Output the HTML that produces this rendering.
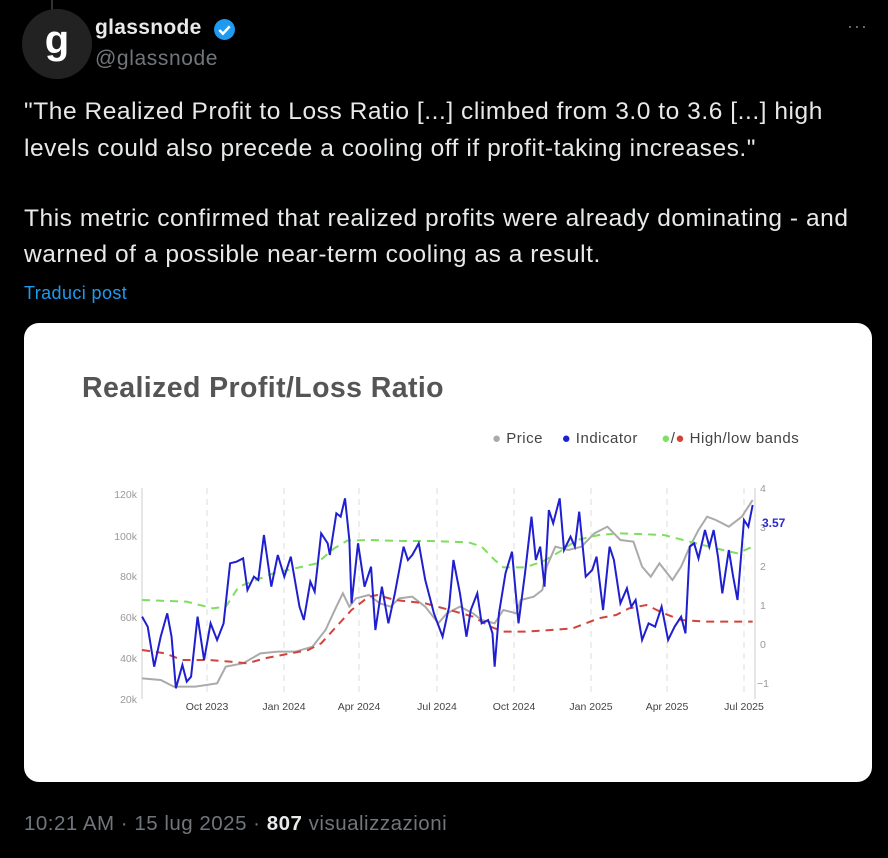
<!DOCTYPE html>
<html><head><meta charset="utf-8"><style>
body{margin:0;width:888px;height:858px;background:#000;overflow:hidden;font-family:"Liberation Sans",sans-serif;position:relative}
.a{position:absolute;white-space:nowrap}
.t{color:#e7e9ea;font-size:24.5px;letter-spacing:0.55px;left:24px}
</style></head><body>
<div class="a" style="left:51px;top:0;width:2px;height:10px;background:#333"></div>
<div class="a" style="left:22px;top:9px;width:70px;height:70px;border-radius:50%;background:#222;color:#fff;font-size:40px;font-weight:bold;text-align:center;line-height:62px">g</div>
<div class="a" style="left:95px;top:16px;color:#e7e9ea;font-size:21px;font-weight:bold;letter-spacing:0.3px">glassnode</div>
<svg class="a" style="left:213px;top:18px" width="23" height="23" viewBox="0 0 22 22"><circle cx="11" cy="11" r="10" fill="#1d9bf0"/><path d="M6 11.5l3.5 3.5 6.5-7" stroke="#fff" stroke-width="2.4" fill="none"/></svg>
<div class="a" style="left:95px;top:47px;color:#71767b;font-size:21px;letter-spacing:0.6px">@glassnode</div>
<div class="a" style="left:847px;top:16px;color:#71767b;font-size:18px;letter-spacing:1px">···</div>
<div class="a t" style="top:98px">"The Realized Profit to Loss Ratio [...] climbed from 3.0 to 3.6 [...] high</div>
<div class="a t" style="top:135px">levels could also precede a cooling off if profit-taking increases."</div>
<div class="a t" style="top:205px">This metric confirmed that realized profits were already dominating - and</div>
<div class="a t" style="top:241px">warned of a possible near-term cooling as a result.</div>
<div class="a" style="left:24px;top:283px;color:#1d9bf0;font-size:18px;letter-spacing:0.4px">Traduci post</div>
<div class="a" style="left:24px;top:323px;width:848px;height:459px;background:#fff;border-radius:15px"></div>
<div class="a" style="left:82px;top:372px;color:#555;font-size:28.5px;font-weight:bold;letter-spacing:0.4px">Realized Profit/Loss Ratio</div>
<div class="a" style="left:492px;top:430px;font-size:15px;letter-spacing:0.5px;color:#444"><span style="color:#aaa">●</span> Price &nbsp;&nbsp;&nbsp;<span style="color:#1f1fd6">●</span> Indicator &nbsp;&nbsp;&nbsp;&nbsp;<span style="color:#7de060">●</span>/<span style="color:#d0443a">●</span> High/low bands</div>
<svg class="a" style="left:0;top:0" width="888" height="858">
<g stroke="#ddd" stroke-dasharray="6,5" stroke-width="1">
<line x1="207" y1="488" x2="207" y2="697"/><line x1="284" y1="488" x2="284" y2="697"/><line x1="359" y1="488" x2="359" y2="697"/><line x1="437" y1="488" x2="437" y2="697"/><line x1="514" y1="488" x2="514" y2="697"/><line x1="591" y1="488" x2="591" y2="697"/><line x1="667" y1="488" x2="667" y2="697"/><line x1="744" y1="488" x2="744" y2="697"/></g>
<line x1="142" y1="488" x2="142" y2="699" stroke="#ccc"/><line x1="755" y1="488" x2="755" y2="699" stroke="#ccc"/>
<g font-size="10.5" fill="#999" text-anchor="end"><text x="137" y="498">120k</text><text x="137" y="540">100k</text><text x="137" y="580">80k</text><text x="137" y="621">60k</text><text x="137" y="662">40k</text><text x="137" y="703">20k</text></g>
<g font-size="10.5" fill="#999"><text x="760" y="492">4</text><text x="760" y="531">3</text><text x="760" y="570">2</text><text x="760" y="609">1</text><text x="760" y="648">0</text><text x="757" y="687">−1</text></g>
<g font-size="10.5" fill="#444" text-anchor="middle"><text x="207" y="710">Oct 2023</text><text x="284" y="710">Jan 2024</text><text x="359" y="710">Apr 2024</text><text x="437" y="710">Jul 2024</text><text x="514" y="710">Oct 2024</text><text x="591" y="710">Jan 2025</text><text x="667" y="710">Apr 2025</text><text x="744" y="710">Jul 2025</text></g>
<text x="762" y="527" font-size="12" font-weight="bold" fill="#2a2ad0">3.57</text>
</svg>
<svg class="a" style="left:100px;top:480px" width="680" height="240" viewBox="0 0 1568 720" preserveAspectRatio="none">
<polyline fill="none" stroke="#aaa" stroke-width="2" vector-effect="non-scaling-stroke" points="97,595 140,600 170,620 220,620 270,610 290,560 330,550 370,520 410,515 450,515 490,500 520,450 545,380 560,340 575,380 590,355 620,345 645,370 670,380 690,355 720,350 750,380 780,430 800,400 830,380 860,400 880,420 910,430 930,390 960,400 970,360 1000,350 1020,330 1030,260 1050,200 1080,210 1110,200 1140,160 1170,140 1200,180 1230,185 1250,260 1270,290 1290,250 1320,300 1340,260 1360,200 1380,150 1400,110 1420,120 1450,140 1480,110 1505,60"/>
<polyline fill="none" stroke="#7ede5e" stroke-width="2" stroke-dasharray="8,6" vector-effect="non-scaling-stroke" points="97,360 200,365 260,385 290,380 320,320 360,300 400,280 450,265 500,250 540,205 570,182 620,180 700,183 760,183 850,187 880,200 910,240 930,262 980,262 1020,245 1060,215 1100,180 1150,165 1200,160 1300,165 1360,185 1420,205 1470,220 1505,200"/>
<polyline fill="none" stroke="#d0443a" stroke-width="2" stroke-dasharray="8,6" vector-effect="non-scaling-stroke" points="97,510 150,520 190,540 250,540 300,545 340,550 380,535 440,520 480,510 510,490 545,440 580,390 620,350 640,345 680,360 750,370 820,395 860,410 900,440 930,455 980,455 1040,450 1090,445 1120,430 1150,415 1190,405 1220,385 1260,375 1300,400 1340,420 1400,425 1505,425"/>
<polyline fill="none" stroke="#1f1fd0" stroke-width="2" vector-effect="non-scaling-stroke" points="97,410 110,440 125,560 140,470 155,400 165,470 175,625 190,555 200,605 210,590 225,410 240,540 255,430 270,480 285,430 300,250 315,245 330,235 340,330 355,290 365,300 378,165 395,320 410,225 425,290 440,230 460,380 470,420 485,305 495,335 510,160 525,190 530,225 545,100 555,110 565,55 575,180 580,370 595,190 610,320 625,260 635,450 650,320 665,430 680,340 700,200 710,240 720,225 735,190 750,300 770,400 790,470 805,380 815,240 830,340 845,470 855,390 870,340 880,430 895,420 905,460 910,560 920,400 935,280 950,215 965,430 980,280 995,110 1005,240 1015,200 1025,320 1035,90 1045,130 1060,55 1070,210 1085,170 1095,200 1105,95 1120,290 1135,270 1145,230 1160,390 1175,200 1185,240 1200,370 1215,325 1225,380 1235,360 1250,480 1265,430 1280,440 1295,380 1310,480 1325,440 1340,410 1350,460 1360,200 1370,190 1380,235 1395,150 1405,200 1415,150 1425,230 1435,340 1450,210 1460,290 1470,360 1485,120 1495,140 1505,75"/>
</svg>
<div class="a" style="left:24px;top:812px;color:#71767b;font-size:20.5px;letter-spacing:0.5px">10:21 AM · 15 lug 2025 · <b style="color:#e7e9ea">807</b> visualizzazioni</div>
</body></html>
